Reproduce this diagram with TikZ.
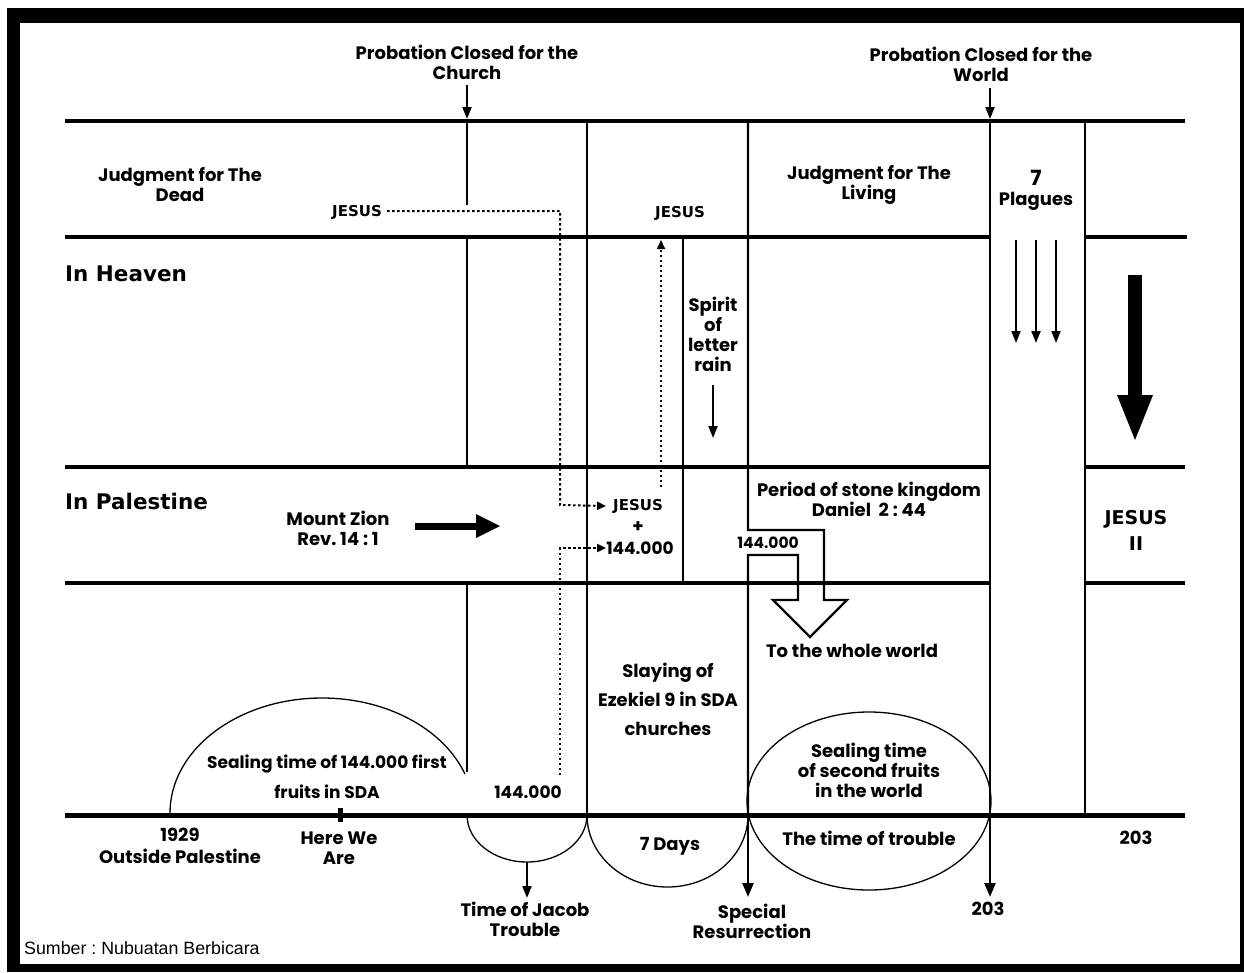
\documentclass[tikz,border=0pt]{standalone}
\usepackage{fontspec}
\setmainfont{Poppins}
\newfontfamily\vfont{DejaVu Sans}
\newfontfamily\afont{Liberation Sans}
\usetikzlibrary{arrows.meta}
\frenchspacing
\begin{document}
\begin{tikzpicture}[x=1pt,y=-1pt,
  txt/.style={font=\fontsize{18}{20}\selectfont\bfseries, align=center, inner sep=0pt},
  num/.style={font=\fontsize{17}{20}\selectfont\bfseries, align=center, inner sep=0pt},
  jes/.style={font=\fontsize{15}{18}\selectfont\vfont\bfseries, align=center, inner sep=0pt},
  big/.style={font=\fontsize{21.5}{24}\selectfont\vfont\bfseries, inner sep=0pt, anchor=west},
  hl/.style={line width=4pt},
  vl/.style={line width=2.2pt},
  arc/.style={line width=1.3pt},
  tarrow/.style={line width=2pt, -{Triangle[length=12pt,width=9pt]}},
  barrow/.style={line width=2.5pt, -{Triangle[length=14pt,width=11pt]}},
  darrow/.style={line width=2pt, dash pattern=on 2.5pt off 2.5pt, -{Triangle[length=9pt,width=8pt]}}]
\useasboundingbox (0,0) rectangle (1244,972);
% frame
\fill[black] (7,8) rectangle (1244,972);
\fill[white] (20,23) rectangle (1240,964);

% horizontal bands
\draw[hl] (65,121) -- (1185,121);
\draw[hl] (65,237) -- (990,237);
\draw[hl] (1085,237) -- (1187,237);
\draw[hl] (65,467) -- (990,467);
\draw[hl] (1085,467) -- (1185,467);
\draw[hl] (65,583) -- (990,583);
\draw[hl] (1085,583) -- (1185,583);
\draw[line width=5pt] (65,815) -- (1185,815);
\fill (337.5,808) rectangle (342.5,822);

% verticals
\draw[vl] (467,121) -- (467,205);
\draw[vl] (467,237) -- (467,467);
\draw[vl] (467,583) -- (467,772);
\draw[vl] (587,121) -- (587,815);
\draw[vl] (683,237) -- (683,583);
\draw[vl] (748,121) -- (748,530) -- (824,530) -- (824,600) -- (847,600) -- (810,637) -- (773,600) -- (798,600) -- (798,555) -- (748,555) -- (748,815);
\draw[vl] (990,121) -- (990,815);
\draw[vl] (1085,121) -- (1085,815);

% arcs
\draw[arc] (170,813) arc[start angle=180, end angle=340.2, x radius=152, y radius=115];
\draw[arc] (467,815) arc[start angle=180, end angle=0, x radius=60, y radius=47];
\draw[arc] (587,815) arc[start angle=180, end angle=0, x radius=80.5, y radius=72];
\draw[arc] (869,801) ellipse[x radius=122, y radius=89];

% texts
\node[txt] (pcc) at (467,62) {Probation Closed for the\\Church};
\node[txt] (pcw) at (981,64) {Probation Closed for the\\World};
\coordinate (pcca) at (467,85);
\coordinate (pccb) at (467,119);
\coordinate (pcwa) at (990,88);
\coordinate (pcwb) at (990,119);
\draw[tarrow] (pcca) -- (pccb);
\draw[tarrow] (pcwa) -- (pcwb);

\node[txt] (jdead) at (180,185) {Judgment for The\\Dead};
\node[jes] (jes1) at (357,212) {JESUS};
\node[jes] (jes2) at (680,213) {JESUS};
\node[txt] (jliv) at (869,185) {Judgment for The\\Living};
\node[txt, font=\fontsize{21}{24}\selectfont\bfseries] (seven) at (1036,178) {7};
\node[txt] (plag) at (1036,201) {Plagues};
\foreach \x in {1016,1036,1056} \draw[tarrow] (\x,240) -- (\x,343);
% big arrow
\fill (1128,275) rectangle (1142,396) ;
\fill (1117,395) -- (1153,395) -- (1135,440) -- cycle;

\node[big] (heaven) at (65,274) {In Heaven};
\node[big] (pal) at (65,501) {In Palestine};

\node[txt] (spirit) at (713,334) {Spirit\\of\\letter\\rain};
\draw[tarrow] (713,385) -- (713,438);

\node[txt] (zion) at (338,528) {Mount Zion\\Rev. 14 : 1};
\fill (415,522.5) rectangle (478,529.5);
\fill (476,514) -- (500,526) -- (476,538) -- cycle;

\node[jes] (jes3) at (638,506) {JESUS};
\node[txt] (plus) at (638,527) {+};
\node[num] (n144a) at (640,548) {144.000};
\node[txt] (period) at (869,499) {Period of stone kingdom\\Daniel\ \ 2 : 44};
\node[txt, font=\fontsize{15.5}{16}\selectfont\bfseries] (n144b) at (768,543) {144.000};
\node[txt] (whole) at (852,651) {To the whole world};
\node[jes, font=\fontsize{19}{26}\selectfont\vfont\bfseries] (jes4) at (1136,530) {JESUS\\II};
\node[txt, font=\fontsize{18}{29}\selectfont\bfseries] (slay) at (668,699) {Slaying of\\Ezekiel 9 in SDA\\churches};
\node[txt, font=\fontsize{17}{30}\selectfont\bfseries] (seal1) at (327,777) {Sealing time of 144.000 first\\fruits in SDA};
\node[num] (n144c) at (528,792) {144.000};
\node[txt] (seal2) at (869,770) {Sealing time\\of second fruits\\in the world};

% dotted connectors
\coordinate (d1) at (387,211);
\coordinate (d2) at (560,211);
\coordinate (d3) at (560,505);
\coordinate (d4) at (560,775);
\coordinate (d5) at (560,548);
\coordinate (d6) at (661,487);
\coordinate (d7) at (661,240);
\draw[darrow] (d1) -- (d2) -- (d3) -- (jes3.west -| n144a.west);
\draw[darrow] (d4) -- (d5) -- (n144a.west);
\draw[darrow] (d6) -- (d7);

\node[txt, font=\fontsize{18}{22}\selectfont\bfseries] (y1929) at (180,846) {1929\\Outside Palestine};
\node[txt] (here) at (339,848) {Here We\\Are};
\node[txt] (days) at (670,846) {7 Days};
\node[txt] (trouble) at (869,838) {The time of trouble};
\node[txt] (t203a) at (1136,838) {203};
\node[txt] (jacob) at (525,919) {Time of Jacob\\Trouble};
\node[txt] (spec) at (752,921) {Special\\Resurrection};
\node[txt] (t203b) at (988,909) {203};
\coordinate (ja) at (527,862);
\coordinate (jb) at (527,898);
\coordinate (sa) at (748,815);
\coordinate (sb) at (748,897);
\coordinate (wa) at (990,815);
\coordinate (wb) at (990,897);
\draw[tarrow] (ja) -- (jb);
\draw[barrow] (sa) -- (sb);
\draw[barrow] (wa) -- (wb);

\node[font=\fontsize{17.8}{20}\selectfont\afont, anchor=west, inner sep=0pt] (src) at (24,948) {Sumber : Nubuatan Berbicara};
\end{tikzpicture}
\end{document}
